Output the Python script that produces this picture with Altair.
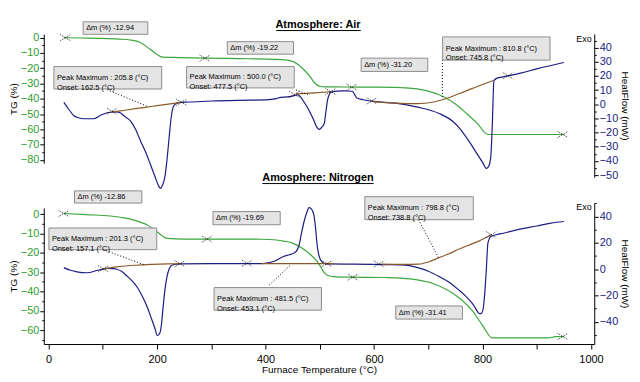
import altair as alt
import pandas as pd

# ---------------- Atmosphere: Air ----------------
air_tg_T = [28, 60, 95, 130, 150, 169, 187, 199, 210, 240, 290, 350, 420, 445, 460, 472, 483, 490, 500, 510,
            540, 600, 640, 670, 700, 730, 750, 770, 790, 810, 850, 900, 950]
air_tg = [0, -0.2, -0.4, -0.9, -1.5, -3.2, -7.6, -10.8, -12.7, -13.0, -13.4, -13.7, -14.2, -15.0, -17.5, -21.5,
          -26.0, -29.5, -31.8, -32.2, -32.3, -32.4, -32.6, -33.2, -35.0, -39.0, -43.5, -49.5, -56.0, -63.4,
          -63.4, -63.4, -63.4]

air_hf_T = [28, 37, 46, 55, 65, 83, 95, 105, 114, 125, 132, 140, 150, 160, 169, 178, 187, 196, 202, 206,
            210, 214, 218, 222, 226, 230, 236, 242, 260, 300, 350, 400, 420, 428, 440, 453, 459, 465, 471, 477,
            483, 489, 495, 499, 504, 508, 511, 514, 517, 520, 530, 545, 560, 564, 568, 580, 600, 640, 680, 720,
            745, 760, 775, 790, 800, 807, 811, 815, 818, 821, 826, 840, 870, 900, 950]
air_hf = [1.4, -3.5, -7.9, -9.5, -10.2, -10.2, -7.9, -6.3, -5.6, -5.4, -6.0, -8.5, -11.4, -17.5, -25.5, -33.0,
          -41.8, -51.0, -57.0, -59.3, -57.0, -52.0, -40.0, -24.0, -9.0, -1.5, 0.8, 1.4, 1.6, 2.3, 2.8, 3.1, 4.0,
          4.9, 5.2, 6.1, 6.8, 4.9, 1.5, -2.1, -6.5, -11.4, -16.5, -17.7, -16.0, -13.7, -6.0, 2.6, 6.5, 8.4, 9.3,
          9.5, 9.2, 7.0, 4.5, 3.2, 2.0, 0.8, -2.0, -6.5, -12.0, -18.0, -26.0, -35.0, -41.0, -45.3, -44.0, -38.0,
          -15.0, 16.6, 18.3, 19.5, 22.0, 25.0, 29.5]

air_base_T = [114, 140, 175, 210, 245, 456, 490, 520, 596, 640, 680, 710, 740, 770, 800, 821]
air_base = [-5.6, -4.2, -2.3, -0.4, 1.4, 7.3, 8.1, 8.9, 2.1, 0.8, 0.4, 1.6, 5.0, 9.5, 14.0, 17.0]
air_base_seg = [1, 1, 1, 1, 1, 2, 2, 2, 3, 3, 3, 3, 3, 3, 3, 3]

air_tgx_T = [31, 288, 559, 948]
air_tgx = [0, -13.4, -32.4, -63.4]
air_hfx_T = [117, 245, 453, 520, 596, 847]
air_hfx = [-4.9, 1.4, 7.0, 9.0, 2.4, 20.1]

air_ann_text = ["Δm (%) -12.94", "Peak Maximum : 205.8 (°C)\nOnset: 162.5 (°C)", "Δm (%) -19.22",
                "Peak Maximum : 500.0 (°C)\nOnset: 477.5 (°C)", "Δm (%) -31.20",
                "Peak Maximum : 810.8 (°C)\nOnset: 745.8 (°C)"]
air_ann_l = [63.6, 9.7, 329.4, 254.3, 576.2, 726.5]
air_ann_r = [182.8, 208.4, 451.5, 452.8, 699.0, 924.5]
air_ann_t = [10.4, -18.9, -2.6, -18.9, -13.4, 0.5]
air_ann_b = [2.2, -33.6, -10.8, -32.9, -22.1, -14.7]

air_lead_x1 = [108, 456, 726]
air_lead_y1 = [-34.1, -34.2, -14.7]
air_lead_x2 = [183, 480, 726]
air_lead_y2 = [-45.1, -37.5, -39.0]

# ---------------- Atmosphere: Nitrogen ----------------
n2_tg_T = [28, 70, 114, 140, 156, 170, 181, 190, 199, 208, 218, 250, 292, 350, 392, 420, 434, 450, 471, 483,
           495, 502, 508, 517, 526, 561, 620, 650, 680, 710, 737, 760, 780, 800, 818, 850, 920, 935, 950]
n2_tg = [0.3, -0.3, -1.0, -2.0, -3.0, -4.3, -5.5, -7.0, -9.0, -11.0, -12.6, -12.9, -12.9, -12.9, -13.0, -13.4,
         -14.0, -15.0, -18.3, -21.0, -24.5, -27.5, -30.3, -32.0, -32.3, -32.6, -32.8, -33.1, -34.0, -36.0,
         -39.5, -44.0, -49.5, -57.5, -64.0, -64.0, -64.0, -63.4, -63.3]

n2_hf_T = [28, 40, 52, 71, 89, 100, 108, 117, 126, 135, 144, 153, 163, 172, 181, 190, 196, 200.5, 205, 208,
           211, 214, 218, 222, 227, 235, 242, 300, 350, 392, 405, 416, 425, 434, 444, 453, 458, 462, 466, 471,
           476, 480, 484, 489, 492, 495, 498, 501, 506, 511, 517, 560, 621, 651, 682, 700, 719, 737, 755, 768,
           780, 787, 792, 795, 798, 801, 804, 807, 810, 816, 840, 865, 900, 926, 950]
n2_hf = [1.2, -0.8, -2.0, -2.7, -1.0, 0.0, 0.7, 0.5, 0.0, -1.8, -5.0, -8.5, -13.5, -20.0, -28.0, -38.0, -45.0,
         -50.5, -48.5, -42.0, -29.0, -17.0, -6.0, 0.0, 3.0, 3.8, 4.0, 4.2, 4.3, 4.3, 4.8, 6.0, 8.0, 9.8, 11.0,
         12.4, 14.5, 18.6, 27.0, 36.2, 43.0, 46.8, 46.0, 41.3, 32.0, 18.6, 11.0, 7.3, 5.0, 4.0, 4.0, 3.8, 3.5,
         3.3, 1.0, -1.5, -5.3, -9.5, -15.3, -20.0, -25.4, -29.5, -32.9, -33.7, -33.5, -30.4, -19.0, -0.2, 20.0,
         25.0, 27.5, 30.0, 32.8, 35.0, 36.2]

n2_base_T = [101, 130, 160, 190, 220, 242, 392, 460, 526, 614, 651, 682, 700, 719, 737, 755, 773, 792, 816]
n2_base = [0.3, 2.0, 3.0, 3.6, 4.0, 4.2, 4.3, 4.3, 4.3, 3.8, 3.6, 3.8, 5.5, 8.6, 11.5, 14.9, 18.0, 21.1, 26.2]
n2_base_seg = [1, 1, 1, 1, 1, 1, 2, 2, 2, 3, 3, 3, 3, 3, 3, 3, 3, 3, 3]

n2_tgx_T = [28, 292, 561, 948]
n2_tgx = [0.3, -12.9, -32.6, -63.3]
n2_hfx_T = [101, 242, 366, 513, 609, 816]
n2_hfx = [0.3, 4.2, 4.5, 4.2, 4.0, 26.2]

n2_ann_text = ["Δm (%) -12.86", "Peak Maximum : 201.3 (°C)\nOnset: 157.1 (°C)", "Δm (%) -19.69",
               "Peak Maximum : 481.5 (°C)\nOnset: 453.1 (°C)", "Peak Maximum : 798.8 (°C)\nOnset: 738.8 (°C)",
               "Δm (%) -31.41"]
n2_ann_l = [47.7, 0.5, 303.0, 305.0, 583.0, 640.0]
n2_ann_r = [171.8, 199.3, 427.0, 503.0, 783.0, 763.0]
n2_ann_t = [12.0, -7.2, 1.3, -38.0, 9.0, -47.5]
n2_ann_b = [5.7, -18.4, -5.5, -49.7, -2.9, -54.3]

n2_lead_x1 = [101, 407, 682]
n2_lead_y1 = [-18.4, -36.6, -2.9]
n2_lead_x2 = [175, 447, 719]
n2_lead_y2 = [-26.1, -26.1, -22.6]

x_ticks = list(range(0, 1001, 100))

# ---------------- styling ----------------
GREEN = "#3ea63e"
GREEN_LBL = "#2f9c2f"
NAVY = "#1c1c82"
BROWN = "#8b5a2b"
FONT = "Liberation Sans"
W = 554
CROSS = "M-1,-0.6L1,0.6M-1,0.6L1,-0.6"

x_scale = alt.Scale(domain=[-9, 1006], nice=False, zero=False)


def y_axis(orient, title, values, step, color):
    return alt.Axis(
        orient=orient, title=title, values=values, format="d",
        labelExpr=f"datum.value % {step} === 0 ? datum.label : ''",
        tickSize={"condition": {"test": f"datum.value % {step} === 0", "value": 4}, "value": 2},
        labelColor=color, labelFont=FONT, labelFontSize=11, labelPadding=1,
        labelOverlap=False, labelFlush=False, labelBound=False,
        titleFont=FONT, titleFontSize=10, titleFontWeight="normal", titleColor="black",
        titlePadding=2, domainColor="black", tickColor="black", grid=False)


x_axis_bottom = alt.Axis(
    values=x_ticks, format="d", labelExpr="datum.value % 200 === 0 ? datum.label : ''",
    tickSize=5, title="Furnace Temperature (°C)", labelFont=FONT, labelFontSize=11, labelPadding=5,
    labelColor="black", labelFlush=False, labelOverlap=False,
    titleFont=FONT, titleFontSize=10, titleFontWeight="normal", titlePadding=0,
    domainColor="black", tickColor="black", grid=False)


def panel(height, tg_T, tg, hf_T, hf, b_T, b, b_seg, tgx_T, tgx, hfx_T, hfx,
          a_text, a_l, a_r, a_t, a_b, l_x1, l_y1, l_x2, l_y2,
          tg_dom, tg_rng, tg_vals, hf_dom, hf_vals, hf_step, x_axis,
          title, title_xy, ul, exo_xy):
    tg_scale = alt.Scale(domain=tg_dom, range=tg_rng, nice=False, zero=False)
    hf_scale = alt.Scale(domain=hf_dom, nice=False, zero=False)
    tg_ax = y_axis("left", "TG (%)", tg_vals, 10, GREEN_LBL)
    hf_ax = y_axis("right", "HeatFlow (mW)", hf_vals, hf_step, NAVY)

    def X(f):
        return alt.X(f, type="quantitative", scale=x_scale, axis=x_axis)

    def YT(f):
        return alt.Y(f, type="quantitative", scale=tg_scale, axis=tg_ax)

    def YH(f):
        return alt.Y(f, type="quantitative", scale=hf_scale, axis=hf_ax)

    def YA(f):
        return alt.Y(f, type="quantitative", scale=tg_scale, axis=None)

    tg_df = pd.DataFrame({"T": tg_T, "v": tg})
    hf_df = pd.DataFrame({"T": hf_T, "v": hf})
    b_df = pd.DataFrame({"T": b_T, "v": b, "seg": b_seg})
    tgx_df = pd.DataFrame({"T": tgx_T, "v": tgx})
    hfx_df = pd.DataFrame({"T": hfx_T, "v": hfx})
    ann = pd.DataFrame({"text": a_text, "l": a_l, "r": a_r, "t": a_t, "b": a_b})
    ann["mid"] = (ann["t"] + ann["b"]) / 2
    lead = pd.DataFrame({"x1": l_x1, "y1": l_y1, "x2": l_x2, "y2": l_y2})

    cross_mark = dict(shape=CROSS, size=110, filled=False, stroke="black", strokeWidth=0.8,
                      strokeDash=[1, 1], opacity=1)

    tg_line = alt.Chart(tg_df).mark_line(color=GREEN, strokeWidth=1.2, interpolate="monotone").encode(
        x=X("T"), y=YT("v"))
    tg_cross = alt.Chart(tgx_df).mark_point(**cross_mark).encode(x=X("T"), y=YT("v"))
    tg_group = alt.layer(tg_line, tg_cross)

    hf_line = alt.Chart(hf_df).mark_line(color=NAVY, strokeWidth=1.2, interpolate="monotone").encode(
        x=X("T"), y=YH("v"))
    base_line = alt.Chart(b_df).mark_line(color=BROWN, strokeWidth=1.2, interpolate="monotone").encode(
        x=X("T"), y=YH("v"), detail="seg:N")
    hf_cross = alt.Chart(hfx_df).mark_point(**cross_mark).encode(x=X("T"), y=YH("v"))
    hf_group = alt.layer(hf_line, base_line, hf_cross)

    leaders = alt.Chart(lead).mark_rule(color="black", strokeWidth=1, strokeDash=[1, 2]).encode(
        x=X("x1"), x2="x2", y=YA("y1"), y2="y2")
    boxes = alt.Chart(ann).mark_rect(fill="#e4e4e4", stroke="#8c8c8c", strokeWidth=1).encode(
        x=X("l"), x2="r", y=YA("t"), y2="b")
    texts = alt.Chart(ann).mark_text(align="left", baseline="middle", dx=3, font=FONT, fontSize=7.5,
                                     lineBreak="\n", lineHeight=10, color="black").encode(
        x=X("l"), y=YA("mid"), text="text")
    head = alt.Chart(pd.DataFrame({"s": [title]})).mark_text(
        font=FONT, fontSize=11, fontWeight="bold", align="center", baseline="middle", color="black").encode(
        x=alt.value(title_xy[0]), y=alt.value(title_xy[1]), text="s")
    underline = alt.Chart(pd.DataFrame({"s": [title]})).mark_rule(color="black", strokeWidth=1).encode(
        x=alt.value(ul[0]), x2=alt.value(ul[1]), y=alt.value(ul[2]))
    exo = alt.Chart(pd.DataFrame({"s": ["Exo"]})).mark_text(
        font=FONT, fontSize=9, align="left", baseline="middle", color="black").encode(
        x=alt.value(exo_xy[0]), y=alt.value(exo_xy[1]), text="s")
    ann_group = alt.layer(leaders, boxes, texts, head, underline, exo)

    return alt.layer(tg_group, hf_group, ann_group).resolve_scale(y="independent").properties(
        width=W, height=height)


top = panel(144, air_tg_T, air_tg, air_hf_T, air_hf, air_base_T, air_base, air_base_seg,
            air_tgx_T, air_tgx, air_hfx_T, air_hfx,
            air_ann_text, air_ann_l, air_ann_r, air_ann_t, air_ann_b,
            air_lead_x1, air_lead_y1, air_lead_x2, air_lead_y2,
            [-82.2, 2.4], [130, 0], list(range(0, -85, -5)),
            [-51.4, 49.6], list(range(45, -55, -5)), 10, None,
            "Atmosphere: Air", (276, -9), (234, 319, -3.5), (536, 5))

bottom = panel(142, n2_tg_T, n2_tg, n2_hf_T, n2_hf, n2_base_T, n2_base, n2_base_seg,
               n2_tgx_T, n2_tgx, n2_hfx_T, n2_hfx,
               n2_ann_text, n2_ann_l, n2_ann_r, n2_ann_t, n2_ann_b,
               n2_lead_x1, n2_lead_y1, n2_lead_x2, n2_lead_y2,
               [-67.2, 3.2], [142, 5], list(range(0, -70, -5)),
               [-56.8, 50.3], list(range(50, -60, -10)), 20, x_axis_bottom,
               "Amosphere: Nitrogen", (276, -25), (220, 332, -19.5), (536, 4))

chart = alt.vconcat(top, bottom, spacing=26, bounds="flush").properties(
    padding={"left": 0, "top": 10, "right": 2, "bottom": 2}
).configure_view(stroke=None)

chart.save("out.html", embed_options={"renderer": "svg", "actions": False})
